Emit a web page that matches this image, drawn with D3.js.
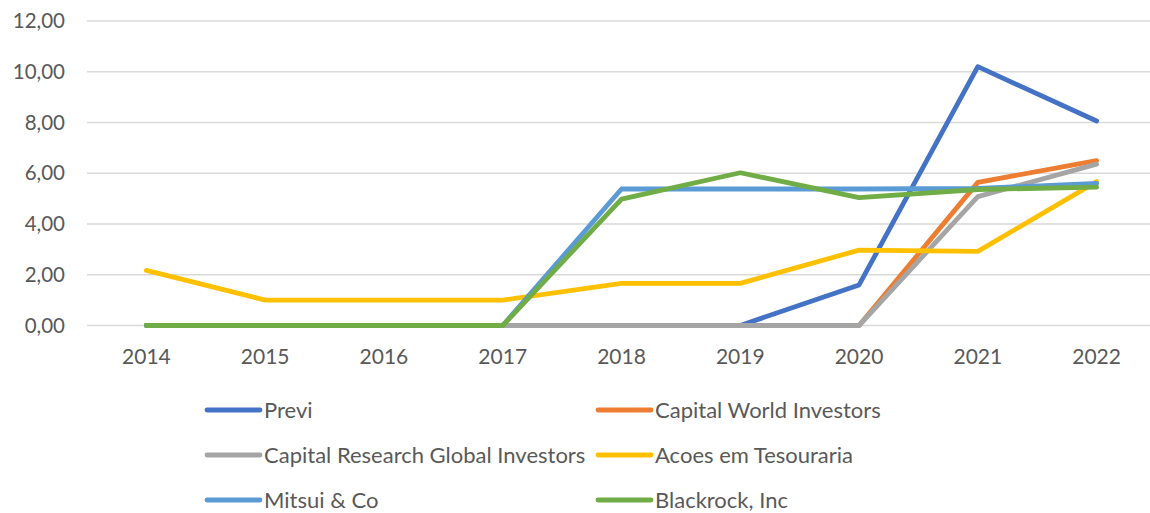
<!DOCTYPE html>
<html><head><meta charset="utf-8">
<script src="https://cdn.jsdelivr.net/npm/d3@7"></script>
<style>body{margin:0;background:#fff;} svg{display:block;font-family:Lato,"Noto Sans",sans-serif;}</style>
</head><body>
<svg id="c" width="1150" height="513"></svg>
<script>
const years = ["2014","2015","2016","2017","2018","2019","2020","2021","2022"];
const yTicks = [0,2,4,6,8,10,12];
const seriesNames = ["Previ","Capital World Investors","Capital Research Global Investors","Acoes em Tesouraria","Mitsui & Co","Blackrock, Inc"];
const seriesColors = ["#4472C4","#ED7D31","#A5A5A5","#FFC000","#5B9BD5","#70AD47"];
const previ = [0,0,0,0,0,0,1.6,10.2,8.06];
const capitalWorld = [0,0,0,0,0,0,0,5.64,6.5];
const capitalResearch = [0,0,0,0,0,0,0,5.08,6.36];
const acoes = [2.17,1.0,1.0,1.0,1.66,1.66,2.97,2.92,5.67];
const mitsui = [0,0,0,0,5.38,5.38,5.38,5.4,5.6];
const blackrock = [0,0,0,0,4.98,6.02,5.04,5.36,5.45];
const allSeries = [previ,capitalWorld,capitalResearch,acoes,mitsui,blackrock];

const svg = d3.select("#c");
const x = d3.scalePoint().domain(years).range([87,1156]).padding(0.5);
const y = d3.scaleLinear().domain([0,12]).range([325.5,21]);

// gridlines
svg.append("g").selectAll("line").data(yTicks).join("line")
  .attr("x1",87).attr("x2",1156)
  .attr("y1",d=>y(d)).attr("y2",d=>y(d))
  .attr("stroke","#d9d9d9").attr("stroke-width",1.5);

// y labels
const fmt = d => d.toFixed(2).replace(".",",");
svg.append("g").selectAll("text").data(yTicks).join("text")
  .attr("x",65).attr("y",d=>y(d)).attr("dy","0.35em")
  .attr("text-anchor","end").attr("fill","#595959").attr("font-size",20.5)
  .text(fmt);

// x labels
svg.append("g").selectAll("text").data(years).join("text")
  .attr("x",d=>x(d)).attr("y",357).attr("dy","0.35em")
  .attr("text-anchor","middle").attr("fill","#595959").attr("font-size",21)
  .text(d=>d);

// lines
const line = d3.line().x((d,i)=>x(years[i])).y(d=>y(d));
svg.append("g").selectAll("path").data(allSeries).join("path")
  .attr("d",line).attr("fill","none")
  .attr("stroke",(d,i)=>seriesColors[i]).attr("stroke-width",4.8)
  .attr("stroke-linejoin","round").attr("stroke-linecap","round");

// legend
const legPos = [[205,410],[596,410],[205,455],[596,455],[205,500],[596,500]];
const lg = svg.append("g").selectAll("g").data(seriesNames).join("g")
  .attr("transform",(d,i)=>`translate(${legPos[i][0]},${legPos[i][1]})`);
lg.append("line").attr("x1",2).attr("x2",55).attr("y1",0).attr("y2",0)
  .attr("stroke",(d,i)=>seriesColors[i]).attr("stroke-width",4.8).attr("stroke-linecap","round");
lg.append("text").attr("x",59).attr("y",0).attr("dy","0.35em")
  .attr("fill","#595959").attr("font-size",22).text(d=>d);
</script>
</body></html>
